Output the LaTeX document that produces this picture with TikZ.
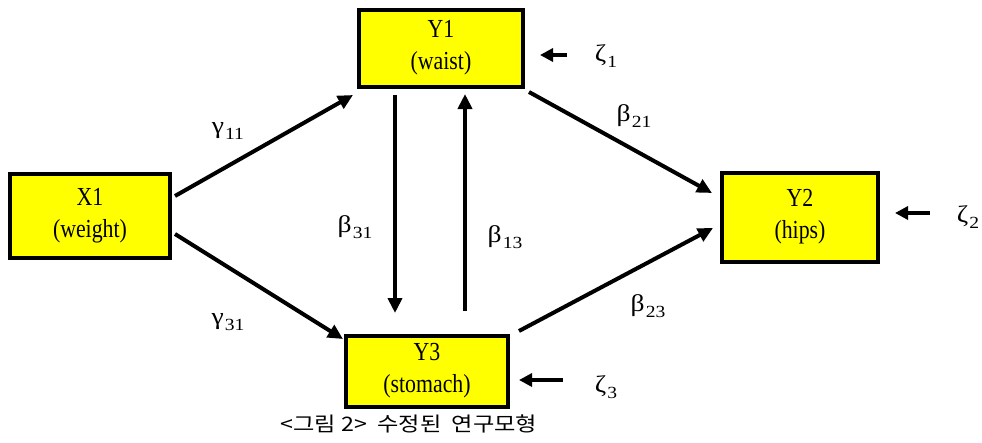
\documentclass[tikz,border=0pt]{standalone}
\usepackage{fontspec}
\setmainfont{Liberation Serif}
\newfontfamily\boxfont[FakeStretch=0.84]{Liberation Serif}
\newfontfamily\grfont[FakeStretch=1.15]{Liberation Serif}
\newfontfamily\kofont[FakeStretch=1.16]{Noto Sans CJK KR}
\usetikzlibrary{arrows.meta}
\definecolor{boxyellow}{RGB}{255,255,0}
\tikzset{
  var/.style={draw=black, line width=4pt, fill=boxyellow, minimum width=#1, inner sep=0pt, align=center, font=\boxfont\fontsize{26}{32}\selectfont},
  path/.style={line width=4pt, -{Triangle[length=15pt,width=14pt]}},
  err/.style={line width=4pt, -{Triangle[length=13pt,width=13pt]}},
  lbl/.style={font=\grfont\fontsize{24}{26}\selectfont, inner sep=0pt},
}
\newcommand{\sbs}[1]{\kern1pt\raisebox{-0.5ex}{\fontsize{17}{18}\selectfont #1}}
\begin{document}
\begin{tikzpicture}[x=1pt,y=-1pt]
\useasboundingbox (0,0) rectangle (982,442);
\node[var=164pt, minimum height=77pt] (Y1) at (441,48) {Y1\\(waist)};
\node[var=160pt, minimum height=84pt] (X1) at (90,216) {X1\\(weight)};
\node[var=156pt, minimum height=89pt] (Y2) at (800,217) {Y2\\(hips)};
\node[var=162pt, minimum height=71pt] (Y3) at (427,371) {Y3\\(stomach)};
% error terms
\coordinate (e1s) at (567,55); \coordinate (e1e) at (540,55);
\coordinate (e2s) at (930,213); \coordinate (e2e) at (895,213);
\coordinate (e3s) at (563,380); \coordinate (e3e) at (519,380);
\draw[err] (e1s) -- (e1e);
\draw[err] (e2s) -- (e2e);
\draw[err] (e3s) -- (e3e);
\node[lbl] (z1) at (606,56) {ζ\sbs{1}};
\node[lbl] (z2) at (968,217) {ζ\sbs{2}};
\node[lbl] (z3) at (606,387) {ζ\sbs{3}};
% paths
\coordinate (a1) at (175,196); \coordinate (a2) at (353,95);
\coordinate (b1) at (175,234); \coordinate (b2) at (343,339);
\coordinate (c1) at (395,95); \coordinate (c2) at (395,313);
\coordinate (d1) at (465,311); \coordinate (d2) at (465,94);
\coordinate (f1) at (529,92); \coordinate (f2) at (712,193);
\coordinate (g1) at (519,331); \coordinate (g2) at (713,228);
\draw[path] (a1) -- (a2);
\draw[path] (b1) -- (b2);
\draw[path] (c1) -- (c2);
\draw[path] (d1) -- (d2);
\draw[path] (f1) -- (f2);
\draw[path] (g1) -- (g2);
\node[lbl] (l1) at (228,131) {γ\sbs{11}};
\node[lbl] (l2) at (228,322) {γ\sbs{31}};
\node[lbl] (l3) at (355,227) {β\sbs{31}};
\node[lbl] (l4) at (505,237) {β\sbs{13}};
\node[lbl] (l5) at (634,116) {β\sbs{21}};
\node[lbl] (l6) at (648,306) {β\sbs{23}};
\node[font=\kofont\fontsize{20}{22}\selectfont, inner sep=0pt] (cap) at (409,424) {<그림 2>\ \ 수정된\ \ 연구모형};
\end{tikzpicture}
\end{document}
